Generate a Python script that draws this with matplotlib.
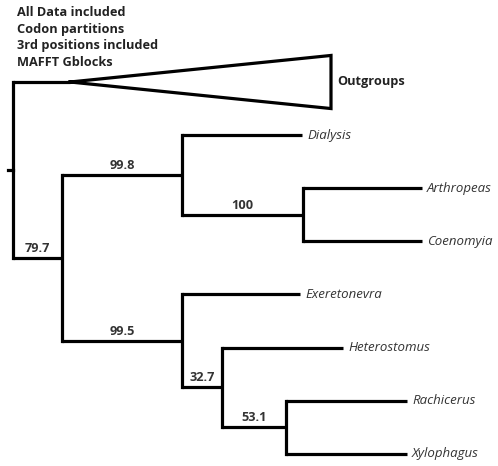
import matplotlib
matplotlib.use('Agg')
import matplotlib.pyplot as plt

# tree: (name, branch length, children, support)
# branch lengths are in the figure's horizontal units
root_x = 13
root_stub = 5
leaf_gap = 53.1
first_leaf_y = 82
outgroup_stem = 57
outgroup_len = 261
outgroup_half = 0.5

ingroup = ('A', 49, [
    ('B', 120, [
        ('Dialysis', 120, [], None),
        ('C', 121, [
            ('Arthropeas', 119, [], None),
            ('Coenomyia', 119, [], None),
        ], '100'),
    ], '99.8'),
    ('D', 120, [
        ('Exeretonevra', 118, [], None),
        ('E', 40, [
            ('Heterostomus', 121, [], None),
            ('F', 64, [
                ('Rachicerus', 121, [], None),
                ('Xylophagus', 121, [], None),
            ], '53.1'),
        ], '32.7'),
    ], '99.5'),
], '79.7')

title_lines = ['All Data included', 'Codon partitions',
               '3rd positions included', 'MAFFT Gblocks']

plt.rcParams['font.family'] = ['Open Sans', 'DejaVu Sans']
lw = 2.3
fs_bold = 9.2
fs_leaf = 9.5
fig = plt.figure(figsize=(4.98, 4.66), dpi=100)
ax = fig.add_axes([0, 0, 1, 1])
ax.set_xlim(0, 498)
ax.set_ylim(466, 0)
ax.axis('off')

leaf_counter = [1]  # outgroup takes slot 0


def draw(node, x0):
    name, bl, kids, sup = node
    x1 = x0 + bl
    if not kids:
        y = first_leaf_y + leaf_gap * leaf_counter[0]
        leaf_counter[0] += 1
        ax.plot([x0, x1], [y, y], color='black', lw=lw, solid_capstyle='butt')
        ax.text(x1 + 5, y, name, style='italic', fontsize=fs_leaf, color='#333333',
                va='center', ha='left')
        return y
    ys = [draw(k, x1) for k in kids]
    y = (ys[0] + ys[-1]) / 2
    ax.plot([x1, x1], [ys[0], ys[-1]], color='black', lw=lw, solid_capstyle='projecting')
    ax.plot([x0, x1], [y, y], color='black', lw=lw, solid_capstyle='butt')
    if sup:
        ax.text((x0 + x1) / 2, y - 3, sup, fontsize=fs_bold, fontweight='bold',
                color='#333333', ha='center', va='bottom')
    return y


y_in = draw(ingroup, root_x)
y_out = first_leaf_y
ax.plot([root_x, root_x], [y_out, y_in], color='black', lw=lw, solid_capstyle='projecting')
y_root = (y_out + y_in) / 2
ax.plot([root_x - root_stub, root_x], [y_root, y_root], color='black', lw=lw)

# outgroup stem and collapsed triangle
apex = root_x + outgroup_stem
ax.plot([root_x, apex], [y_out, y_out], color='black', lw=lw, solid_capstyle='butt')
tip = apex + outgroup_len
ax.plot([apex, tip, tip, apex],
        [y_out, y_out - outgroup_half * leaf_gap, y_out + outgroup_half * leaf_gap, y_out],
        color='black', lw=lw, solid_joinstyle='miter')
ax.text(tip + 6, y_out, 'Outgroups', fontsize=fs_bold, fontweight='bold',
        color='#222222', va='center', ha='left')

for i, line in enumerate(title_lines):
    ax.text(17, 12 + 17 * i, line, fontsize=fs_bold, fontweight='bold',
            color='#222222', va='center', ha='left')

fig.savefig('out.png', dpi=100)
